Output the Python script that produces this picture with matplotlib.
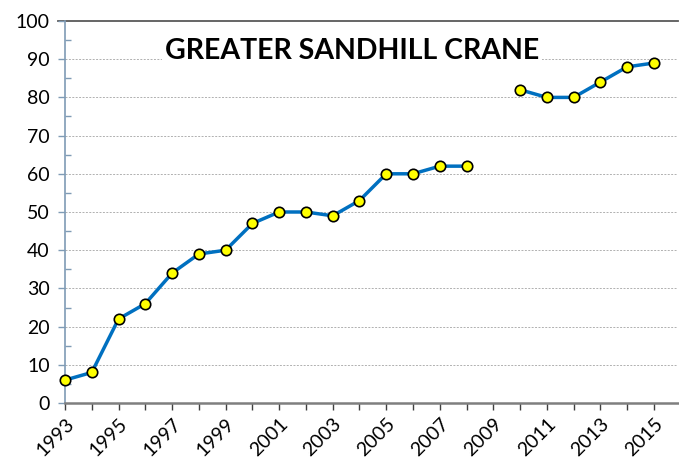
import numpy as np
import matplotlib
matplotlib.use("Agg")
import matplotlib.pyplot as plt
from matplotlib.ticker import MultipleLocator

years = list(range(1993, 2016))
values = [6, 8, 22, 26, 34, 39, 40, 47, 50, 50, 49, 53, 60, 60, 62, 62,
          np.nan, 82, 80, 80, 84, 88, 89]
tick_labels = [str(y) if y % 2 == 1 else "" for y in years]
title = "GREATER SANDHILL CRANE"

plt.rcParams['font.family'] = ['Lato', 'DejaVu Sans']

fig = plt.figure(figsize=(6.79, 4.65), dpi=100)
ax = fig.add_axes([65/679, 1-403/465, (678-65)/679, (403-21)/465])

ax.set_xlim(1993, 2015.9)
ax.set_ylim(0, 100)

for yv in range(10, 100, 10):
    ax.axhline(yv, color='#b0b0b0', lw=0.7, ls=(0, (2, 1.5)), zorder=0)
ax.plot([-0.012, 1], [1, 1], transform=ax.transAxes, color='#595959',
        lw=1.3, zorder=0, clip_on=False)

ax.plot(years, values, color='#0070C0', lw=2.5, marker='o', ms=7.5,
        mfc='#FFFF00', mec='black', mew=1.2, zorder=3, clip_on=False)

for s in ['top', 'right']:
    ax.spines[s].set_visible(False)
ax.spines['left'].set_color('#7f9bb5')
ax.spines['left'].set_linewidth(1.2)
ax.spines['bottom'].set_color('#7f7f7f')
ax.spines['bottom'].set_linewidth(1.8)

ax.set_xticks(years)
ax.set_xticklabels(tick_labels, rotation=45, ha='right', rotation_mode='anchor')
ax.yaxis.set_major_locator(MultipleLocator(10))
ax.yaxis.set_minor_locator(MultipleLocator(5))
ax.tick_params(axis='y', which='major', direction='out', length=5, width=1,
               color='#7f9bb5', labelsize=14, pad=6)
ax.tick_params(axis='y', which='minor', direction='in', length=4.3, width=1,
               color='#7f9bb5')
ax.tick_params(axis='x', which='major', direction='out', length=5, width=1,
               color='#404040', labelsize=14, pad=4)

ax.text(0.468, 0.921, title, transform=ax.transAxes, ha='center', va='center',
        fontsize=20.5, fontweight='bold', color='black', zorder=2,
        bbox=dict(facecolor='white', edgecolor='none', pad=2))

fig.savefig('out.png', dpi=100)
